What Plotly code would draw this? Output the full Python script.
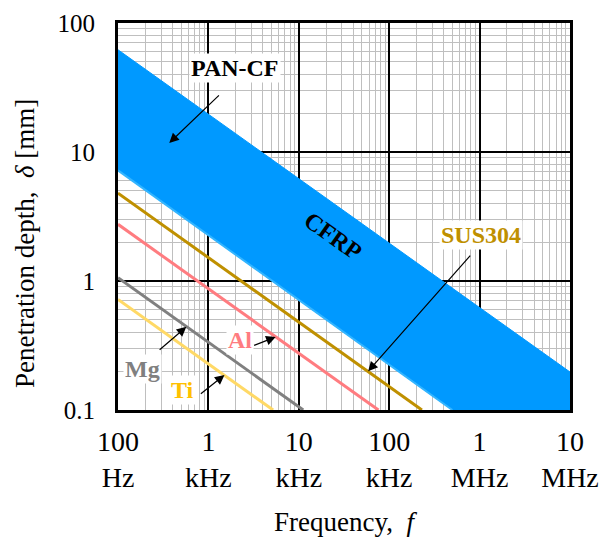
import numpy as np
import plotly.graph_objects as go

# ---------------- data ----------------
freq_ticks = [1e2, 1e3, 1e4, 1e5, 1e6, 1e7]
freq_tick_labels = ["100<br>Hz", "1<br>kHz", "10<br>kHz", "100<br>kHz", "1<br>MHz", "10<br>MHz"]
depth_ticks = [0.1, 1, 10, 100]
depth_tick_labels = ["0.1", "1", "10", "100"]

# CFRP band (PAN-CF): upper and lower edges
cfrp_upper_f = [1e2, 1e7]
cfrp_upper_d = [62.0, 0.197]
cfrp_lower_f = [5.0e5, 1e2]
cfrp_lower_d = [0.1, 7.2]

# metals
sus_f = [1e2, 2.3e5]
sus_d = [4.8, 0.1]
al_f = [1e2, 7.6e4]
al_d = [2.75, 0.1]
mg_f = [1e2, 1.12e4]
mg_d = [1.06, 0.1]
ti_f = [1e2, 5.2e3]
ti_d = [0.72, 0.1]

# ---------------- styles ----------------
BLUE = "#0099FF"
SUS_C = "#BF9000"
AL_C = "#FF7C80"
MG_C = "#808080"
TI_C = "#FFD966"
TI_TXT = "#FFC000"
FONT = "Liberation Serif"

fig = go.Figure()

# CFRP band polygon (clipped by the plot area)
band_f = cfrp_upper_f + [1e7, 1e7] + cfrp_lower_f
band_d = cfrp_upper_d + [0.05, 0.05] + cfrp_lower_d
fig.add_trace(go.Scatter(x=band_f, y=band_d, mode="lines", fill="toself",
                         fillcolor=BLUE, line=dict(color=BLUE, width=1),
                         hoverinfo="skip", showlegend=False))
fig.add_trace(go.Scatter(x=cfrp_lower_f, y=cfrp_lower_d, mode="lines",
                         line=dict(color="#33B5FF", width=2),
                         hoverinfo="skip", showlegend=False))

for fx, dy, c in [(sus_f, sus_d, SUS_C), (al_f, al_d, AL_C), (mg_f, mg_d, MG_C), (ti_f, ti_d, TI_C)]:
    fig.add_trace(go.Scatter(x=fx, y=dy, mode="lines", line=dict(color=c, width=3),
                             hoverinfo="skip", showlegend=False))

minor_x = [k * 10 ** n for n in range(2, 7) for k in range(2, 10)]
minor_y = [k * 10 ** n for n in range(-1, 2) for k in range(2, 10)]

fig.update_xaxes(type="log", range=[2, 7], tickvals=freq_ticks, ticktext=freq_tick_labels,
                 showgrid=True, gridcolor="black", gridwidth=2,
                 minor=dict(tickvals=minor_x, showgrid=True, gridcolor="#BFBFBF", gridwidth=1),
                 showline=True, linecolor="black", linewidth=3, mirror=True,
                 ticks="", ticklabelstandoff=4, zeroline=False,
                 tickfont=dict(family=FONT, size=28, color="black"),
                 title=dict(text="Frequency,  <i>f</i>", standoff=21,
                            font=dict(family=FONT, size=27, color="black")))
fig.update_yaxes(type="log", range=[-1, 2], tickvals=depth_ticks, ticktext=depth_tick_labels,
                 showgrid=True, gridcolor="black", gridwidth=2,
                 minor=dict(tickvals=minor_y, showgrid=True, gridcolor="#BFBFBF", gridwidth=1),
                 showline=True, linecolor="black", linewidth=3, mirror=True,
                 ticks="", ticklabelstandoff=15, zeroline=False,
                 tickfont=dict(family=FONT, size=25, color="black"))

# y-axis title (placed slightly below the plot centre, as in the reference)
fig.add_annotation(x=-0.2058, y=0.4315, xref="paper", yref="paper", xanchor="center", yanchor="middle",
                   text="Penetration depth,  <i>δ</i> [mm]", showarrow=False, textangle=-90,
                   font=dict(family=FONT, size=27, color="black"))

def lab(text, x, y, color, angle=0, bg="white"):
    fig.add_annotation(x=x, y=y, xref="x", yref="y", text="<b>" + text + "</b>", showarrow=False,
                       textangle=angle, bgcolor=bg, borderpad=1,
                       font=dict(family=FONT, size=24, color=color))

def arrow(x0, y0, x1, y1):
    fig.add_annotation(x=x1, y=y1, ax=x0, ay=y0, xref="x", yref="y", axref="x", ayref="y",
                       text="", showarrow=True, arrowhead=2, arrowsize=1.6, arrowwidth=1.2,
                       arrowcolor="black")

# labels (positions in log10 data units)
lab("PAN-CF", 3.289, 1.651, "black")
arrow(3.133, 1.450, 2.567, 1.070)
lab("CFRP", 4.378, 0.349, "black", angle=35.6, bg="rgba(0,0,0,0)")
lab("SUS304", 6.011, 0.357, SUS_C)
arrow(5.911, 0.209, 4.767, -0.700)
lab("Al", 3.344, -0.457, AL_C)
arrow(3.489, -0.504, 3.744, -0.434)
lab("Mg", 2.267, -0.682, MG_C)
arrow(2.444, -0.543, 2.756, -0.355)
lab("Ti", 2.711, -0.845, TI_TXT)
arrow(2.900, -0.884, 3.178, -0.728)

# the page adds an 8 px body margin, so the figure is 8 px smaller than the window
fig.update_layout(width=600, height=536, plot_bgcolor="white", paper_bgcolor="white",
                  margin=dict(l=110, r=38, t=15, b=134, autoexpand=False),
                  showlegend=False)

fig.write_html("out.html")
